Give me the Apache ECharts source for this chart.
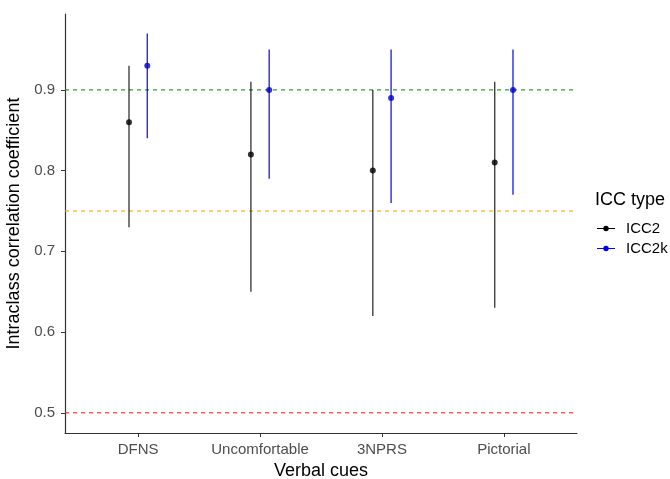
<!DOCTYPE html>
<html><head><meta charset="utf-8">
<script src="https://cdn.jsdelivr.net/npm/echarts@6/dist/echarts.min.js"></script>
<style>html,body{margin:0;padding:0;background:#fff}#c{width:670px;height:479px}</style>
</head><body><div id="c"></div>
<script>
const categories = ['DFNS', 'Uncomfortable', '3NPRS', 'Pictorial'];
const icc2Est = [0.86, 0.82, 0.80, 0.81];
const icc2Lo  = [0.73, 0.65, 0.62, 0.63];
const icc2Hi  = [0.93, 0.91, 0.90, 0.91];
const icc2kEst = [0.93, 0.90, 0.89, 0.90];
const icc2kLo  = [0.84, 0.79, 0.76, 0.77];
const icc2kHi  = [0.97, 0.95, 0.95, 0.95];
const yTicks = [0.5, 0.6, 0.7, 0.8, 0.9];
const refLines = [0.9, 0.75, 0.5];
const refColors = ['#1f8a1f', '#ffa500', '#ff2020'];
const dodge = 0.075;
const X_MIN = 0.4, X_MAX = 4.6;

const FONT = 'Liberation Sans, Arial, sans-serif';
const C2 = '#000000', C2k = '#0000ee';

function bars(est, lo, hi, off){ return est.map((v,i)=>[i+1+off, lo[i], hi[i]]); }
function pts(est, off){ return est.map((v,i)=>[i+1+off, v]); }
function errRender(color){
  return function(params, api){
    const x = api.value(0);
    const p1 = api.coord([x, api.value(1)]);
    const p2 = api.coord([x, api.value(2)]);
    return {type:'line', shape:{x1:p1[0],y1:p1[1],x2:p2[0],y2:p2[1]}, style:{stroke:color, lineWidth:1.4, opacity: color===C2?0.75:0.85}};
  };
}
const legendIcon = 'path://M0,4.4L7.2,4.4L7.2,5.6L0,5.6Z M12.8,4.4L20,4.4L20,5.6L12.8,5.6Z M10,2A3,3 0 1 1 9.999,2Z';

const refSeries = refLines.map((y,i)=>({
  type:'line', data:[[X_MIN, y],[X_MAX, y]], silent:true, symbol:'none', z:1,
  lineStyle:{color:refColors[i], type:[4,4], width:1.1}
}));

const chart = echarts.init(document.getElementById('c'), null, {renderer:'canvas'});
chart.setOption({
  animation:false,
  backgroundColor:'#fff',
  textStyle:{fontFamily:FONT},
  grid:{left:65, right:93, top:14, bottom:46, outerBoundsMode:'none', containLabel:false},
  title:{text:'ICC type', left:595, top:191, padding:0, textStyle:{fontFamily:FONT, fontSize:18, fontWeight:'normal', color:'#000'}},
  legend:{
    orient:'vertical', left:597, top:220, padding:0, itemGap:3, itemWidth:18, itemHeight:6,
    textStyle:{fontFamily:FONT, fontSize:15, color:'#000', lineHeight:17, padding:[0,0,0,6]},
    data:[{name:'ICC2', icon:legendIcon, itemStyle:{color:C2}}, {name:'ICC2k', icon:legendIcon, itemStyle:{color:C2k}}]
  },
  xAxis:{
    type:'value', min:X_MIN, max:X_MAX,
    name:'Verbal cues', nameLocation:'middle', nameGap:28,
    nameTextStyle:{fontFamily:FONT, fontSize:18, color:'#000'},
    axisLine:{show:true, lineStyle:{color:'#333', width:1.2}},
    axisTick:{show:true, length:4, customValues:[1,2,3,4], lineStyle:{color:'#333'}},
    axisLabel:{customValues:[1,2,3,4], formatter:v=>categories[Math.round(v)-1], fontFamily:FONT, fontSize:15, color:'#4d4d4d', margin:9},
    splitLine:{show:false}
  },
  yAxis:{
    type:'value', min:0.475, max:0.994,
    name:'Intraclass correlation coefficient', nameLocation:'middle', nameGap:34,
    nameTextStyle:{fontFamily:FONT, fontSize:18, color:'#000'},
    axisLine:{show:true, lineStyle:{color:'#333', width:1.2}},
    axisTick:{show:true, length:4, customValues:yTicks, lineStyle:{color:'#333'}},
    axisLabel:{customValues:yTicks, formatter:v=>v.toFixed(1), fontFamily:FONT, fontSize:15, color:'#4d4d4d', margin:10},
    splitLine:{show:false}
  },
  series:[
    ...refSeries,
    {name:'ICC2', type:'custom', renderItem:errRender(C2), data:bars(icc2Est, icc2Lo, icc2Hi, -dodge), encode:{x:0, y:[1,2]}, itemStyle:{color:C2}, z:3},
    {name:'ICC2k', type:'custom', renderItem:errRender(C2k), data:bars(icc2kEst, icc2kLo, icc2kHi, dodge), encode:{x:0, y:[1,2]}, itemStyle:{color:C2k}, z:3},
    {name:'ICC2', type:'scatter', data:pts(icc2Est, -dodge), symbolSize:6, itemStyle:{color:C2}, z:4},
    {name:'ICC2k', type:'scatter', data:pts(icc2kEst, dodge), symbolSize:6, itemStyle:{color:'#0000cc'}, z:4}
  ]
});
</script></body></html>
